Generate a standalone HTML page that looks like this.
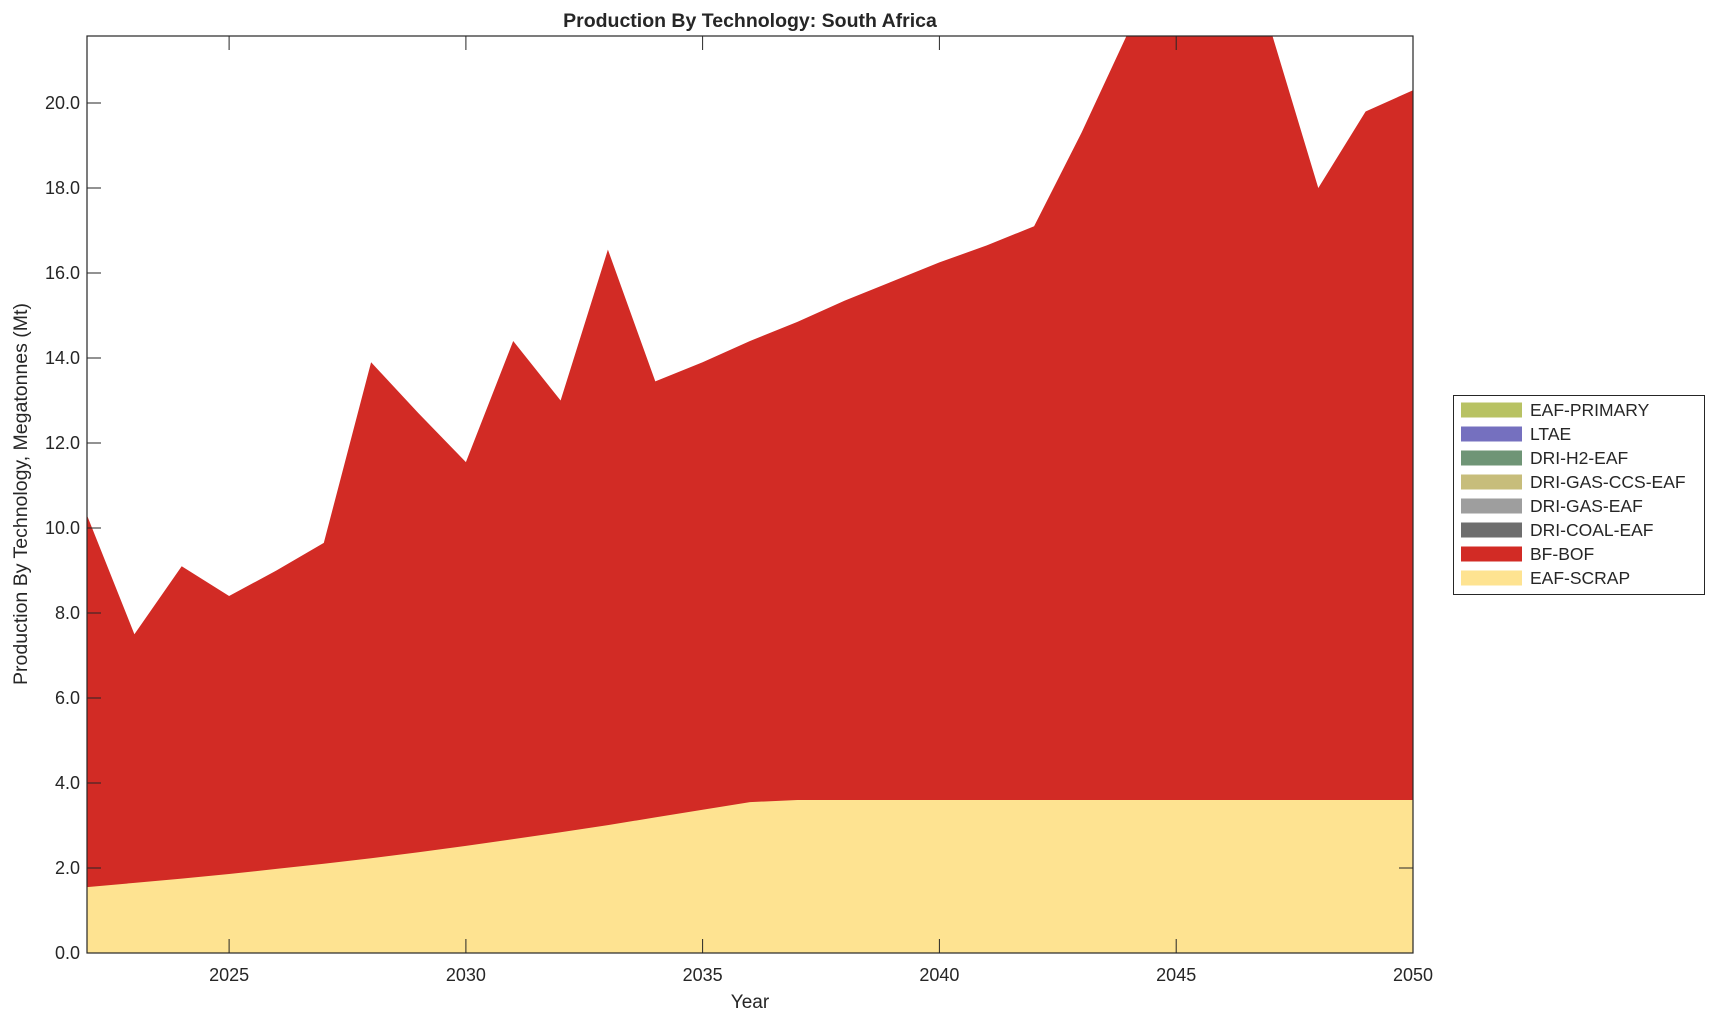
<!DOCTYPE html><html><head><style>body{margin:0;background:#fff}svg{display:block}text{font-family:"Liberation Sans",sans-serif;fill:#262626}</style></head><body>
<svg width="1715" height="1021" viewBox="0 0 1715 1021">
<defs><clipPath id="c"><rect x="87" y="36" width="1326" height="917"/></clipPath></defs>
<g clip-path="url(#c)">
<polygon fill="#d22b25" points="87,515.25 134.4,634.25 181.7,566.25 229.1,596 276.4,570.5 323.8,542.9 371.1,362.25 418.5,413.25 465.9,462.1 513.2,341 560.6,400.5 607.9,249.6 655.3,381.4 702.6,362.25 750,341 797.4,321.9 844.7,300.6 892.1,281.5 939.4,262.4 986.8,245.4 1034.1,226.25 1081.5,132.75 1128.9,30.75 1176.2,-7.5 1223.6,-7.5 1270.9,30.75 1318.3,188 1365.6,111.5 1413,90.25 1413,953 87,953"/>
<polygon fill="#fee391" points="87,887.1 134.4,882.9 181.7,878.6 229.1,874 276.4,868.9 323.8,863.75 371.1,858.2 418.5,852.3 465.9,845.9 513.2,839.1 560.6,832.3 607.9,825.1 655.3,817.4 702.6,809.8 750,802.1 797.4,800 1413,800 1413,953 87,953"/>
</g>
<rect x="87" y="36" width="1326" height="917" fill="none" stroke="#262626" stroke-width="1.2"/>
<g stroke="#262626">
<line x1="87" x2="101" y1="953" y2="953"/><line x1="87" x2="101" y1="868" y2="868"/><line x1="87" x2="101" y1="783" y2="783"/><line x1="87" x2="101" y1="698" y2="698"/><line x1="87" x2="101" y1="613" y2="613"/><line x1="87" x2="101" y1="528" y2="528"/><line x1="87" x2="101" y1="443" y2="443"/><line x1="87" x2="101" y1="358" y2="358"/><line x1="87" x2="101" y1="273" y2="273"/><line x1="87" x2="101" y1="188" y2="188"/><line x1="87" x2="101" y1="103" y2="103"/>
<line x1="1399" x2="1413" y1="868" y2="868"/>
<line x1="229.1" x2="229.1" y1="953" y2="939"/><line x1="465.9" x2="465.9" y1="953" y2="939"/><line x1="702.6" x2="702.6" y1="953" y2="939"/><line x1="939.4" x2="939.4" y1="953" y2="939"/><line x1="1176.2" x2="1176.2" y1="953" y2="939"/>
<line x1="229.1" x2="229.1" y1="36" y2="50"/><line x1="465.9" x2="465.9" y1="36" y2="50"/><line x1="702.6" x2="702.6" y1="36" y2="50"/><line x1="939.4" x2="939.4" y1="36" y2="50"/><line x1="1176.2" x2="1176.2" y1="36" y2="50"/>
</g>
<g font-size="18" text-anchor="end">
<text x="80" y="959">0.0</text><text x="80" y="874">2.0</text><text x="80" y="789">4.0</text><text x="80" y="704">6.0</text><text x="80" y="619">8.0</text><text x="80" y="534">10.0</text><text x="80" y="449">12.0</text><text x="80" y="364">14.0</text><text x="80" y="279">16.0</text><text x="80" y="194">18.0</text><text x="80" y="109">20.0</text>
</g>
<g font-size="18" text-anchor="middle">
<text x="229.1" y="981">2025</text><text x="465.9" y="981">2030</text><text x="702.6" y="981">2035</text><text x="939.4" y="981">2040</text><text x="1176.2" y="981">2045</text><text x="1413" y="981">2050</text>
</g>
<text x="750" y="27" font-size="19.5" font-weight="bold" text-anchor="middle" fill="#000">Production By Technology: South Africa</text>
<text x="750" y="1008" font-size="19" text-anchor="middle">Year</text>
<text transform="translate(27,494) rotate(-90)" font-size="19.5" text-anchor="middle">Production By Technology, Megatonnes (Mt)</text>
<rect x="1453.5" y="395.5" width="251" height="199" fill="#fff" stroke="#262626"/>
<g font-size="17.5">
<rect x="1461" y="402.5" width="61" height="15" fill="#b8c263"/><text x="1530" y="416">EAF-PRIMARY</text>
<rect x="1461" y="426.5" width="61" height="15" fill="#7570bf"/><text x="1530" y="440">LTAE</text>
<rect x="1461" y="450.5" width="61" height="15" fill="#6f9576"/><text x="1530" y="464">DRI-H2-EAF</text>
<rect x="1461" y="474.5" width="61" height="15" fill="#c7bd7b"/><text x="1530" y="488">DRI-GAS-CCS-EAF</text>
<rect x="1461" y="498.5" width="61" height="15" fill="#9e9e9e"/><text x="1530" y="512">DRI-GAS-EAF</text>
<rect x="1461" y="522.5" width="61" height="15" fill="#6e6e6e"/><text x="1530" y="536">DRI-COAL-EAF</text>
<rect x="1461" y="546.5" width="61" height="15" fill="#d22b25"/><text x="1530" y="560">BF-BOF</text>
<rect x="1461" y="570.5" width="61" height="15" fill="#fee391"/><text x="1530" y="584">EAF-SCRAP</text>
</g>
</svg></body></html>
